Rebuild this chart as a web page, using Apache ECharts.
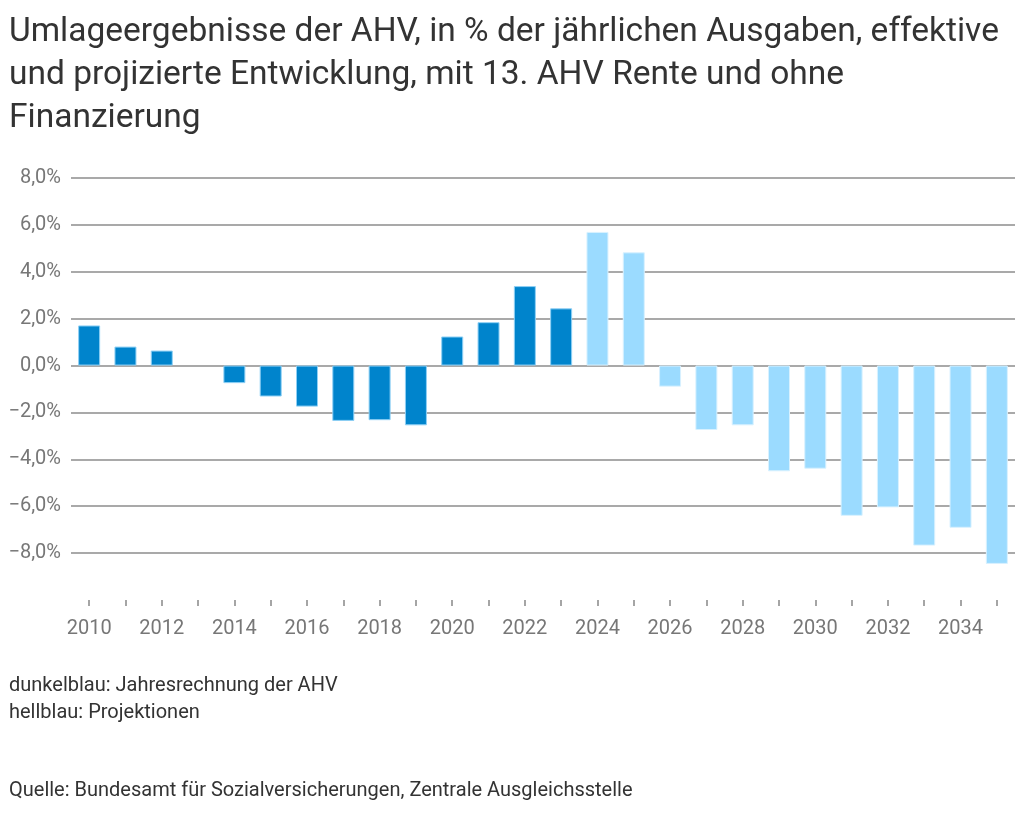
<!DOCTYPE html>
<html>
<head>
<meta charset="utf-8">
<script src="https://cdn.jsdelivr.net/npm/echarts@6/dist/echarts.min.js"></script>
<style>
html,body{margin:0;padding:0;background:#fff;}
#chart{width:1024px;height:814px;}
</style>
</head>
<body>
<div id="chart"></div>
<script>
const years = ['2010','2011','2012','2013','2014','2015','2016','2017','2018','2019','2020','2021','2022','2023','2024','2025','2026','2027','2028','2029','2030','2031','2032','2033','2034','2035'];
const actualValues = [1.71,0.81,0.64,null,-0.75,-1.32,-1.75,-2.36,-2.33,-2.55,1.24,1.85,3.39,2.44,null,null,null,null,null,null,null,null,null,null,null,null];
const projectedValues = [null,null,null,null,null,null,null,null,null,null,null,null,null,null,5.70,4.83,-0.90,-2.75,-2.55,-4.51,-4.40,-6.41,-6.05,-7.68,-6.92,-8.46];
const yTicks = [-10,-8,-6,-4,-2,0,2,4,6,8];

const chart = echarts.init(document.getElementById('chart'), null, {renderer:'canvas'});
const font = 'Roboto, "Noto Sans", sans-serif';
chart.setOption({
  animation:false,
  backgroundColor:'#fff',
  title:{
    text:'Umlageergebnisse der AHV, in % der jährlichen Ausgaben, effektive\nund projizierte Entwicklung, mit 13. AHV Rente und ohne\nFinanzierung',
    left:9, top:11, padding:0,
    textStyle:{fontFamily:font, fontSize:33.5, fontWeight:'normal', color:'#333', lineHeight:43}
  },
  graphic:[
    {type:'text', left:9, top:676, style:{text:'dunkelblau: Jahresrechnung der AHV', font:'20px '+font, fill:'#333'}},
    {type:'text', left:9, top:703, style:{text:'hellblau: Projektionen', font:'20px '+font, fill:'#333'}},
    {type:'text', left:9, top:781, style:{text:'Quelle: Bundesamt für Sozialversicherungen, Zentrale Ausgleichsstelle', font:'20px '+font, fill:'#333'}}
  ],
  grid:{left:71, right:9, top:178, bottom:214, containLabel:false},
  xAxis:{
    type:'category', data:years,
    position:'bottom',
    axisLine:{show:false, onZero:false},
    axisTick:{show:true, alignWithLabel:true, interval:0, length:6, lineStyle:{color:'#888', width:1.5}},
    axisLabel:{interval:1, margin:19, fontFamily:font, fontSize:20, color:'#777'},
    splitLine:{show:false}
  },
  yAxis:{
    type:'value', min:yTicks[0], max:yTicks[yTicks.length-1], interval:2,
    axisLine:{show:false}, axisTick:{show:false},
    axisLabel:{margin:10, fontFamily:font, fontSize:20, color:'#777',
      formatter:function(v){ return v === yTicks[0] ? '' : (v < 0 ? '\u2212' : '') + Math.abs(v).toFixed(1).replace('.', ',') + '%'; }},
    splitLine:{show:true, showMinLine:false, lineStyle:{color:'#8c8c8c', width:1.5}}
  },
  series:[
    {type:'bar', name:'Jahresrechnung', data:actualValues, barWidth:22, barGap:'-100%',
     itemStyle:{color:'#0084CC', borderColor:'#8fd0f5', borderWidth:1}},
    {type:'bar', name:'Projektionen', data:projectedValues, barWidth:22, barGap:'-100%',
     itemStyle:{color:'#9BDBFF', borderColor:'#d8f1ff', borderWidth:1}}
  ]
});
</script>
</body>
</html>
